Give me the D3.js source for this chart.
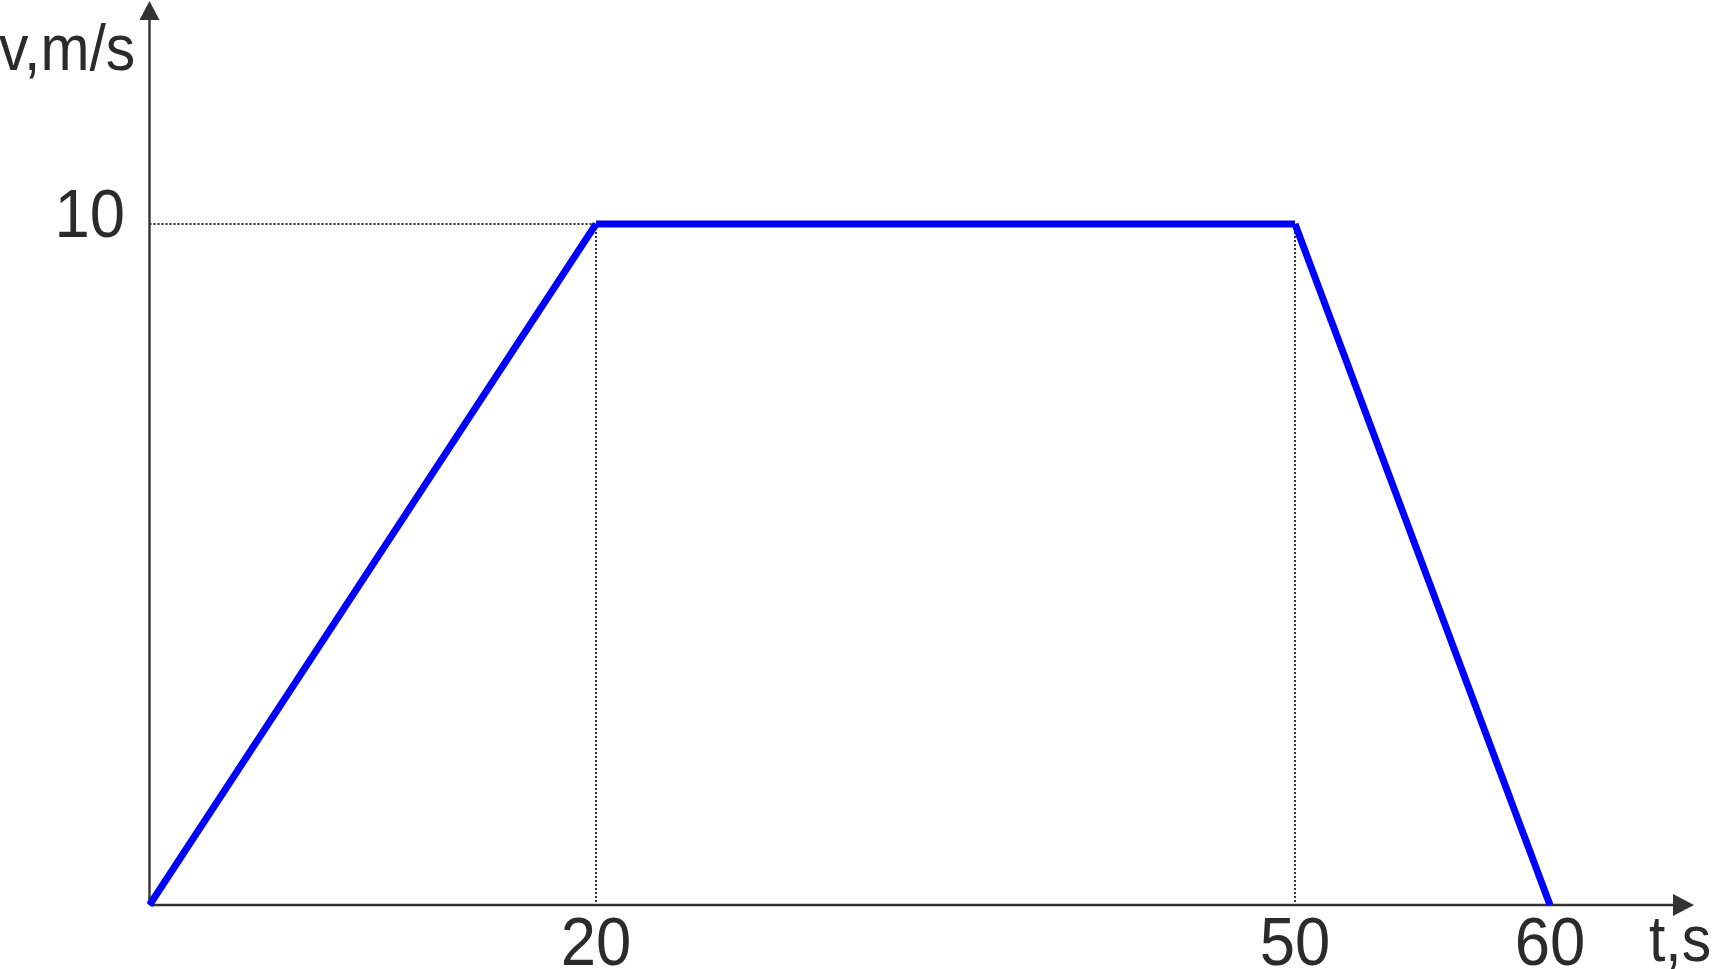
<!DOCTYPE html>
<html>
<head>
<meta charset="utf-8">
<script src="https://cdn.jsdelivr.net/npm/d3@7"></script>
<style>
  body { margin: 0; background: #fff; overflow: hidden; }
  text { font-family: "Liberation Sans", Arial, sans-serif; fill: #2b2b2b; }
</style>
</head>
<body>
<div id="chart"></div>
<script>
// time breakpoints (s) and speed (m/s)
var times = [0, 20, 50, 60];
var speeds = [0, 10, 10, 0];
var xTicks = [20, 50, 60];
var yTicks = [10];
var xLabel = "t,s", yLabel = "v,m/s";

var width = 1715, height = 969;
var squeeze = 0.92; // the original lettering is a bit narrower than Arial

var svg = d3.select("#chart")
    .append("svg")
        .attr("width", width)
        .attr("height", height);

// the picture is not drawn to scale on t, so map each breakpoint piecewise
var xScale = d3.scaleLinear().domain(times).range([149.5, 596, 1295, 1550]);
var yScale = d3.scaleLinear().domain([0, 10]).range([905, 224]);

var axisColor = "#333";

function place(x, y){
    return "translate(" + x + "," + y + ") scale(" + squeeze + ",1)";
}

// dotted guides
svg.selectAll(".vguide")
    .data(xTicks.filter(function(t){ return t !== 60; }))
    .enter().append("line")
        .attr("x1", function(d){ return xScale(d); })
        .attr("x2", function(d){ return xScale(d); })
        .attr("y1", yScale(10))
        .attr("y2", yScale(0))
        .style("stroke", axisColor)
        .style("stroke-width", 2)
        .style("stroke-dasharray", "2,2");

svg.selectAll(".hguide")
    .data(yTicks)
    .enter().append("line")
        .attr("x1", xScale(0))
        .attr("x2", xScale(20))
        .attr("y1", function(d){ return yScale(d); })
        .attr("y2", function(d){ return yScale(d); })
        .style("stroke", axisColor)
        .style("stroke-width", 2)
        .style("stroke-dasharray", "2,2");

// axes with arrows
svg.append("line")
    .attr("x1", xScale(0)).attr("x2", 1675)
    .attr("y1", yScale(0)).attr("y2", yScale(0))
    .style("stroke", axisColor).style("stroke-width", 2.4);
svg.append("path")
    .attr("d", "M1673," + (yScale(0) - 11) + "L1694," + yScale(0) + "L1673," + (yScale(0) + 11) + "Z")
    .style("fill", axisColor);

svg.append("line")
    .attr("x1", xScale(0)).attr("x2", xScale(0))
    .attr("y1", yScale(0)).attr("y2", 18)
    .style("stroke", axisColor).style("stroke-width", 2.4);
svg.append("path")
    .attr("d", "M" + (xScale(0) - 10) + ",20L" + xScale(0) + ",1L" + (xScale(0) + 10) + ",20Z")
    .style("fill", axisColor);

// speed profile
var pts = times.map(function(t, i){ return {t: t, v: speeds[i]}; });
var segs = d3.pairs(pts);

var line = d3.line()
    .x(function(d){ return xScale(d.t); })
    .y(function(d){ return yScale(d.v); });

svg.selectAll(".seg")
    .data(segs)
    .enter().append("path")
        .attr("d", function(d){ return line(d); })
        .style("fill", "none")
        .style("stroke", "#0000ff")
        .style("stroke-width", 7);

// tick labels
svg.selectAll(".xlab")
    .data(xTicks)
    .enter().append("text")
        .attr("transform", function(d){ return place(xScale(d), 965); })
        .attr("text-anchor", "middle")
        .attr("font-size", "69px")
        .text(function(d){ return d; });

svg.selectAll(".ylab")
    .data(yTicks)
    .enter().append("text")
        .attr("transform", function(d){ return place(125, yScale(d) + 13); })
        .attr("text-anchor", "end")
        .attr("font-size", "69px")
        .text(function(d){ return d; });

// axis titles
svg.append("text")
    .attr("transform", place(-1, 70))
    .attr("font-size", "64px")
    .text(yLabel);

svg.append("text")
    .attr("transform", place(1649, 961))
    .attr("font-size", "64px")
    .text(xLabel);
</script>
</body>
</html>
